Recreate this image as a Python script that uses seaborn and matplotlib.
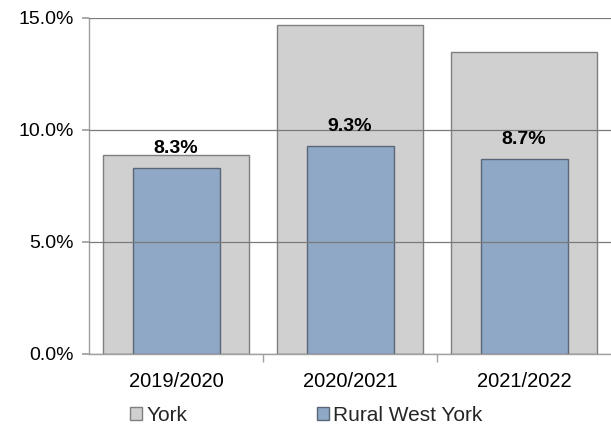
import numpy as np
import pandas as pd
import matplotlib
matplotlib.use("Agg")
import matplotlib.pyplot as plt
import seaborn as sns
from matplotlib.patches import Patch
from matplotlib.ticker import FuncFormatter, MultipleLocator

years = ["2019/2020", "2020/2021", "2021/2022"]
york = [8.9, 14.7, 13.5]
rural_west_york = [8.3, 9.3, 8.7]
series_names = ["York", "Rural West York"]

sns.set_theme(style="white")
plt.rcParams["font.family"] = ["Liberation Sans", "DejaVu Sans"]

df = pd.DataFrame({"year": years, "York": york, "Rural West York": rural_west_york})

fig = plt.figure(figsize=(6.11, 4.28), dpi=100)
ax = fig.add_axes([89 / 611, 1 - 354 / 428, 1 - 89 / 611, (354 - 18) / 428])

grey = "#d0d0d0"
blue = "#8ea8c6"
sns.barplot(data=df, x="year", y="York", order=years, color=grey, width=0.835,
            edgecolor="#7f7f7f", linewidth=1.0, saturation=1, ax=ax)
sns.barplot(data=df, x="year", y="Rural West York", order=years, color=blue, width=0.5,
            edgecolor="#5b6778", linewidth=1.0, saturation=1, ax=ax)

for i, v in enumerate(rural_west_york):
    ax.annotate(f"{v:.1f}%", xy=(i, v), xytext=(0, 14), textcoords="offset points",
                ha="center", va="center", fontsize=14, fontweight="bold", color="black")

ax.set_xlim(-0.5, 2.5)
ax.set_ylim(0, 15)
ax.yaxis.set_major_locator(MultipleLocator(5))
ax.yaxis.set_major_formatter(FuncFormatter(lambda v, p: f"{v:.1f}%"))
ax.grid(axis="y", color="#7a7a7a", linewidth=0.9)
ax.set_axisbelow(False)
ax.set_xlabel("")
ax.set_ylabel("")

for s in ["top", "right"]:
    ax.spines[s].set_visible(False)
for s in ["left", "bottom"]:
    ax.spines[s].set_color("#a0a0a0")
    ax.spines[s].set_linewidth(1.0)

ax.tick_params(axis="y", which="major", left=True, length=5, color="#a0a0a0",
               labelsize=14, pad=6, labelcolor="black")
ax.tick_params(axis="x", which="major", bottom=False, labelsize=14.5, pad=7, labelcolor="black")
ax.set_xticks([0.5, 1.5], minor=True)
ax.tick_params(axis="x", which="minor", bottom=True, length=6, color="#a0a0a0")

handles = [Patch(facecolor=grey, edgecolor="#7f7f7f", label=series_names[0]),
           Patch(facecolor=blue, edgecolor="#5b6778", label=series_names[1])]
fig.legend(handles=handles, loc="center", bbox_to_anchor=(0.501, 0.03), ncol=2,
           frameon=False, fontsize=15, handlelength=0.6, handleheight=0.6,
           handletextpad=0.2, columnspacing=6.2)

fig.savefig("out.png", dpi=100)
